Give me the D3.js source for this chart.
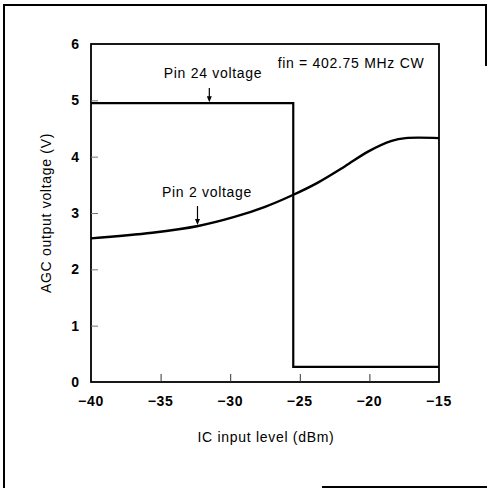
<!DOCTYPE html>
<html>
<head>
<meta charset="utf-8">
<script src="https://cdn.jsdelivr.net/npm/d3@7"></script>
<style>
  html,body{margin:0;padding:0;background:#fff;}
  svg{display:block;font-family:"Liberation Sans",Arial,sans-serif;}
</style>
</head>
<body>
<div id="chart"></div>
<script>
// data
const xTicks = [-40, -35, -30, -25, -20, -15];
const yTicks = [0, 1, 2, 3, 4, 5, 6];
const pin24X = [-40, -25.47, -25.47, -15];
const pin24V = [4.95, 4.95, 0.27, 0.27];
const pin2X = [-40, -35.6, -32.3, -29.7, -27.5, -25.5, -23.7, -21.75, -20.1, -18.4, -17.4, -15];
const pin2V = [2.55, 2.65, 2.77, 2.93, 3.11, 3.32, 3.54, 3.83, 4.09, 4.28, 4.33, 4.33];

const W=487, H=489;
const svg=d3.select('#chart').append('svg').attr('width',W).attr('height',H);

// scanned page border fragments
const border=[[[4,488],[4,5],[486,5],[486,66]],[[322,487],[487,487]]];
svg.append('g').selectAll('path').data(border).join('path')
  .attr('d',d3.line()).attr('fill','none').attr('stroke','#000').attr('stroke-width',2);

const x=d3.scaleLinear().domain([-40,-15]).range([91,439]);
const y=d3.scaleLinear().domain([0,6]).range([382,44]);

// plot frame
svg.append('rect').attr('x',x(-40)).attr('y',y(6))
  .attr('width',x(-15)-x(-40)).attr('height',y(0)-y(6))
  .attr('fill','none').attr('stroke','#000').attr('stroke-width',1.8);

// inner ticks
svg.append('g').attr('transform',`translate(0,${y(0)})`)
  .call(d3.axisBottom(x).tickValues(xTicks.slice(1,-1)).tickSize(-8).tickFormat(''))
  .call(g=>g.select('.domain').remove())
  .call(g=>g.selectAll('line').attr('stroke','#333').attr('stroke-width',1));
svg.append('g').attr('transform',`translate(${x(-40)},0)`)
  .call(d3.axisLeft(y).tickValues(yTicks.slice(1,-1)).tickSize(-7).tickFormat(''))
  .call(g=>g.select('.domain').remove())
  .call(g=>g.selectAll('line').attr('stroke','#777').attr('stroke-width',1));

const fs=14, ls=0.7;
// tick labels
svg.append('g').selectAll('text').data(xTicks).join('text')
  .attr('x',d=>x(d)).attr('y',406).attr('text-anchor','middle')
  .attr('font-size',fs).attr('font-weight',600).attr('letter-spacing',ls)
  .text(d=>String(d).replace('-','\u2212'));
svg.append('g').selectAll('text').data(yTicks).join('text')
  .attr('x',79).attr('y',d=>y(d)+5).attr('text-anchor','end')
  .attr('font-size',fs).attr('font-weight',600).text(d=>d);

// axis titles
svg.append('text').attr('x',266).attr('y',442).attr('text-anchor','middle')
  .attr('font-size',fs).attr('letter-spacing',ls).text('IC input level (dBm)');
svg.append('text').attr('transform','translate(51,213) rotate(-90)').attr('text-anchor','middle')
  .attr('font-size',fs).attr('letter-spacing',ls).text('AGC output voltage (V)');

// curves
const line=d3.line().x(d=>x(d[0])).y(d=>y(d[1]));
svg.append('path').datum(d3.zip(pin24X,pin24V)).attr('d',line)
  .attr('fill','none').attr('stroke','#000').attr('stroke-width',2.2);
svg.append('path').datum(d3.zip(pin2X,pin2V)).attr('d',line.curve(d3.curveCatmullRom.alpha(0.5)))
  .attr('fill','none').attr('stroke','#000').attr('stroke-width',2.4);

// annotations
svg.append('text').attr('x',213).attr('y',78).attr('text-anchor','middle')
  .attr('font-size',fs).attr('letter-spacing',ls).text('Pin 24 voltage');
svg.append('text').attr('x',207).attr('y',197).attr('text-anchor','middle')
  .attr('font-size',fs).attr('letter-spacing',ls).text('Pin 2 voltage');
svg.append('text').attr('x',351).attr('y',68).attr('text-anchor','middle')
  .attr('font-size',fs).attr('letter-spacing',ls).text('fin = 402.75 MHz CW');

function arrow(xv, y0, y1){
  const ax=x(xv);
  svg.append('line').attr('x1',ax).attr('x2',ax).attr('y1',y0).attr('y2',y1-5)
    .attr('stroke','#000').attr('stroke-width',1.2);
  svg.append('path').attr('d',`M${ax-2.5},${y1-6}L${ax+2.5},${y1-6}L${ax},${y1}Z`).attr('fill','#000');
}
arrow(-31.5, 88, y(4.95)-1);
arrow(-32.35, 206, y(2.77)-1);
</script>
</body>
</html>
